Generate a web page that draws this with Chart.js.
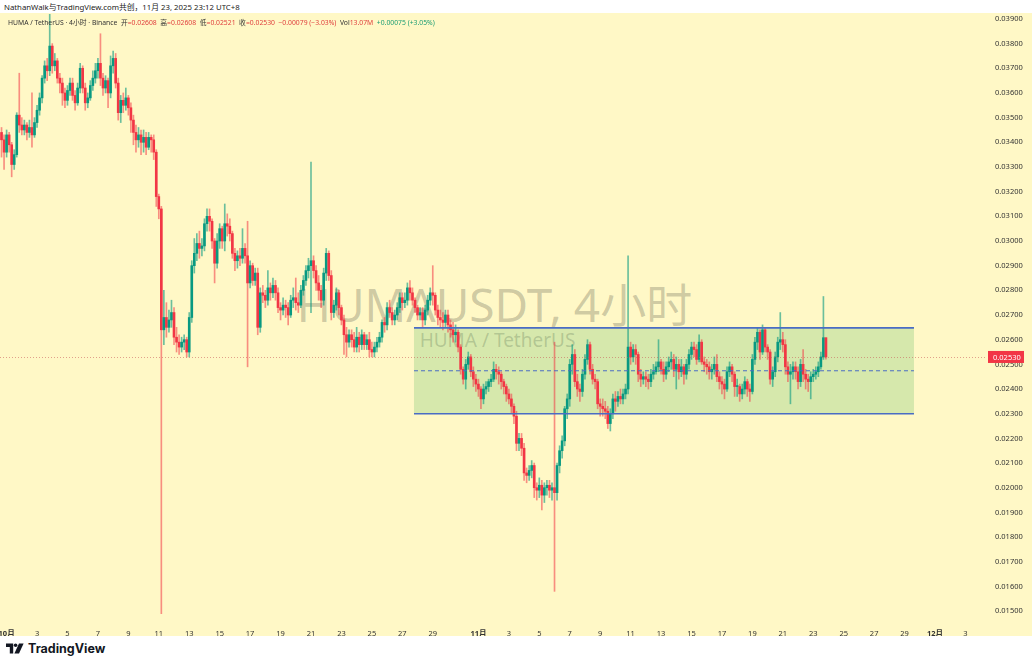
<!DOCTYPE html>
<html>
<head>
<meta charset="utf-8">
<script src="https://cdn.jsdelivr.net/npm/chart.js@4.4.1/dist/chart.umd.min.js"></script>
<style>
  html, body { margin: 0; padding: 0; background: #fff; }
  body { width: 1032px; height: 664px; position: relative; overflow: hidden;
         font-family: "Noto Sans", "Noto Sans CJK SC", sans-serif; }
  #credit { position: absolute; left: 4px; top: 1px; font-size: 7.8px; color: #222; white-space: nowrap; }
  #pane { position: absolute; left: 0; top: 13px; width: 1032px; height: 623px; background: #fff8c6; }
  #chart { position: absolute; left: 0; top: 0; }
  .wm { position: absolute; text-align: center; color: rgba(70, 70, 60, 0.27); white-space: nowrap;
        font-family: "Noto Sans", "Noto Sans CJK SC", sans-serif; }
  #wm1 { left: 2px; width: 985px; top: 265px; font-size: 46px; line-height: 52px; }
  #wm2 { left: 5px; width: 985px; top: 316px; font-size: 19px; line-height: 22px; }
  #legend { position: absolute; left: 8px; top: 4px; font-size: 6.8px; color: #333; white-space: nowrap; }
  #legend .r { color: #e0413e; }
  #legend .g { color: #1e9e74; }
  #logo { position: absolute; left: 6px; top: 641px; height: 14px; display: flex; align-items: center; }
  #logo span { font-family: Inter, "Noto Sans", sans-serif; font-weight: 700; font-size: 12.5px; color: #131722; margin-left: 4px; }
</style>
</head>
<body>
<div id="credit">NathanWalk与TradingView.com共创，11月 23, 2025 23:12 UTC+8</div>
<div id="pane">
  <div id="wm1" class="wm">HUMAUSDT, 4小时</div>
  <div id="wm2" class="wm">HUMA / TetherUS</div>
  <canvas id="chart" width="1032" height="623"></canvas>
  <div id="legend">HUMA / TetherUS · 4小时 · Binance&nbsp;&nbsp;开<span class="r">=0.02608</span>&nbsp;&nbsp;高<span class="r">=0.02608</span>&nbsp;&nbsp;低<span class="r">=0.02521</span>&nbsp;&nbsp;收<span class="r">=0.02530</span>&nbsp;&nbsp;<span class="r">−0.00079 (−3.03%)</span>&nbsp;&nbsp;Vol<span class="r">13.07M</span>&nbsp;&nbsp;<span class="g">+0.00075 (+3.05%)</span></div>
</div>
<div id="logo">
  <svg width="18" height="11" viewBox="0 0 18 11">
    <path d="M0 0.5h7.2v10h-3.4v-6.6H0z" fill="#131722"/>
    <circle cx="9.6" cy="2.3" r="1.8" fill="#131722"/>
    <path d="M13 0.5h4.6l-4.6 10H8.4z" fill="#131722"/>
  </svg>
  <span>TradingView</span>
</div>

<script>
// 4h candles, first one is Sep 30 16:00 (index -2), Oct 1 00:00 is index 0
const firstIndex = -2;
const firstOpen = 0.0344;

const closes = [
  0.0341, 0.0336,
  0.0343, 0.0339, 0.0331, 0.0335, 0.0351, 0.0347,
  0.0345, 0.0347, 0.0344, 0.0346, 0.0343, 0.0348,
  0.0353, 0.0358, 0.0366, 0.0371, 0.0369, 0.0379,
  0.0371, 0.0373, 0.0366, 0.0364, 0.0360, 0.0357,
  0.0361, 0.0364, 0.0359, 0.0356, 0.0362, 0.0370,
  0.0362, 0.0356, 0.0358, 0.0363, 0.0366, 0.0369,
  0.0372, 0.0366, 0.0362, 0.0365, 0.0360, 0.0371,
  0.0374, 0.0364, 0.0352, 0.0357, 0.0355, 0.0358,
  0.0354, 0.0349, 0.0344, 0.0341, 0.0343, 0.0340,
  0.0342, 0.0338, 0.0342, 0.0341, 0.0336, 0.0318,
  0.0313, 0.0264, 0.0269, 0.0265, 0.0268, 0.0271,
  0.0261, 0.0259, 0.0257, 0.0259, 0.0260, 0.0255,
  0.0269, 0.0290, 0.0295, 0.0299, 0.0297, 0.0298,
  0.0307, 0.0310, 0.0308, 0.0300, 0.0291, 0.0300,
  0.0305, 0.0300, 0.0307, 0.0306, 0.0303, 0.0295,
  0.0292, 0.0294, 0.0293, 0.0297, 0.0294, 0.0283,
  0.0290, 0.0284, 0.0287, 0.0265, 0.0279, 0.0278,
  0.0276, 0.0281, 0.0279, 0.0282, 0.0279, 0.0273,
  0.0272, 0.0274, 0.0273, 0.0270, 0.0276, 0.0277,
  0.0275, 0.0274, 0.0280, 0.0284, 0.0288, 0.0290,
  0.0292, 0.0288, 0.0283, 0.0280, 0.0276, 0.0287,
  0.0295, 0.0286, 0.0271, 0.0274, 0.0279, 0.0273,
  0.0268, 0.0262, 0.0259, 0.0262, 0.0260, 0.0257,
  0.0261, 0.0258, 0.0262, 0.0258, 0.0260, 0.0256,
  0.0255, 0.0257, 0.0259, 0.0261, 0.0267, 0.0266,
  0.0273, 0.0271, 0.0268, 0.0270, 0.0273, 0.0277,
  0.0275, 0.0276, 0.0281, 0.0279, 0.0276, 0.0273,
  0.0270, 0.0271, 0.0268, 0.0272, 0.0276, 0.0279,
  0.0278, 0.0272, 0.0269, 0.0268, 0.0267, 0.0270,
  0.0266, 0.0264, 0.0262, 0.0263, 0.0257, 0.0248,
  0.0244, 0.0250, 0.0253, 0.0247, 0.0244, 0.0242,
  0.0240, 0.0236, 0.0240, 0.0241, 0.0243, 0.0244,
  0.0248, 0.0247, 0.0246, 0.0243, 0.0241, 0.0238,
  0.0236, 0.0233, 0.0229, 0.0218, 0.0220, 0.0216,
  0.0206, 0.0205, 0.0207, 0.0209, 0.0200, 0.0199,
  0.0201, 0.0197, 0.0200, 0.0201, 0.0199, 0.0200,
  0.0198, 0.0209, 0.0215, 0.0219, 0.0232, 0.0236,
  0.0250, 0.0254, 0.0243, 0.0240, 0.0239, 0.0246,
  0.0252, 0.0258, 0.0248, 0.0244, 0.0243, 0.0234,
  0.0233, 0.0232, 0.0231, 0.0226, 0.0230, 0.0236,
  0.0235, 0.0237, 0.0236, 0.0238, 0.0240, 0.0257,
  0.0253, 0.0256, 0.0254, 0.0246, 0.0244, 0.0245,
  0.0244, 0.0243, 0.0246, 0.0247, 0.0249, 0.0251,
  0.0248, 0.0246, 0.0249, 0.0251, 0.0252, 0.0248,
  0.0250, 0.0247, 0.0249, 0.0246, 0.0250, 0.0254,
  0.0257, 0.0256, 0.0252, 0.0259, 0.0251, 0.0250,
  0.0249, 0.0247, 0.0248, 0.0250, 0.0245, 0.0243,
  0.0242, 0.0240, 0.0247, 0.0249, 0.0246, 0.0241,
  0.0241, 0.0238, 0.0240, 0.0243, 0.0240, 0.0239,
  0.0252, 0.0259, 0.0263, 0.0255, 0.0264, 0.0257,
  0.0255, 0.0244, 0.0247, 0.0253, 0.0259, 0.0260,
  0.0258, 0.0249, 0.0246, 0.0247, 0.0249, 0.0247,
  0.0243, 0.0250, 0.0246, 0.0244, 0.0243, 0.0245,
  0.0246, 0.0247, 0.0249, 0.0253, 0.02608, 0.0253
];

const highs = [
  0.0346, 0.0343,
  0.0345, 0.0344, 0.0340, 0.0337, 0.0352, 0.0368,
  0.0350, 0.0349, 0.0348, 0.0349, 0.0360, 0.0350,
  0.0355, 0.0360, 0.0367, 0.0373, 0.0374, 0.0392,
  0.0380, 0.0376, 0.0374, 0.0368, 0.0366, 0.0362,
  0.0363, 0.0366, 0.0366, 0.0361, 0.0364, 0.0372,
  0.0371, 0.0364, 0.0360, 0.0365, 0.0369, 0.0372,
  0.0374, 0.0384, 0.0368, 0.0367, 0.0366, 0.0375,
  0.0377, 0.0376, 0.0366, 0.0359, 0.0360, 0.0362,
  0.0359, 0.0356, 0.0351, 0.0347, 0.0346, 0.0345,
  0.0345, 0.0344, 0.0344, 0.0343, 0.0343, 0.0337,
  0.0319, 0.0314, 0.0280, 0.0275, 0.0272, 0.0276,
  0.0273, 0.0265, 0.0262, 0.0261, 0.0262, 0.0261,
  0.0271, 0.0292, 0.0301, 0.0303, 0.0304, 0.0301,
  0.0309, 0.0313, 0.0313, 0.0309, 0.0301, 0.0303,
  0.0307, 0.0306, 0.0315, 0.0311, 0.0309, 0.0304,
  0.0297, 0.0296, 0.0297, 0.0305, 0.0299, 0.0308,
  0.0292, 0.0291, 0.0289, 0.0289, 0.0281, 0.0282,
  0.0280, 0.0288, 0.0283, 0.0285, 0.0284, 0.0281,
  0.0275, 0.0277, 0.0276, 0.0275, 0.0278, 0.0281,
  0.0285, 0.0279, 0.0282, 0.0286, 0.0290, 0.0293,
  0.0332, 0.0294, 0.0290, 0.0286, 0.0282, 0.0289,
  0.0297, 0.0296, 0.0288, 0.0276, 0.0281, 0.0280,
  0.0274, 0.0270, 0.0265, 0.0264, 0.0264, 0.0263,
  0.0265, 0.0263, 0.0264, 0.0263, 0.0262, 0.0263,
  0.0259, 0.0259, 0.0261, 0.0263, 0.0268, 0.0269,
  0.0275, 0.0276, 0.0273, 0.0272, 0.0275, 0.0279,
  0.0279, 0.0279, 0.0283, 0.0284, 0.0281, 0.0277,
  0.0274, 0.0273, 0.0273, 0.0274, 0.0278, 0.0281,
  0.0290, 0.0279, 0.0274, 0.0272, 0.0271, 0.0272,
  0.0272, 0.0268, 0.0267, 0.0266, 0.0264, 0.0258,
  0.0249, 0.0252, 0.0255, 0.0254, 0.0249, 0.0246,
  0.0244, 0.0241, 0.0242, 0.0243, 0.0244, 0.0246,
  0.0251, 0.0250, 0.0249, 0.0247, 0.0244, 0.0242,
  0.0240, 0.0238, 0.0234, 0.0231, 0.0222, 0.0222,
  0.0218, 0.0208, 0.0209, 0.0211, 0.0210, 0.0202,
  0.0204, 0.0203, 0.0202, 0.0203, 0.0203, 0.0202,
  0.0259, 0.0210, 0.0217, 0.0221, 0.0233, 0.0238,
  0.0252, 0.0258, 0.0256, 0.0246, 0.0242, 0.0248,
  0.0254, 0.0260, 0.0259, 0.0250, 0.0246, 0.0244,
  0.0236, 0.0236, 0.0235, 0.0233, 0.0232, 0.0238,
  0.0239, 0.0239, 0.0240, 0.0240, 0.0242, 0.0294,
  0.0259, 0.0258, 0.0258, 0.0255, 0.0248, 0.0247,
  0.0247, 0.0246, 0.0248, 0.0250, 0.0251, 0.0260,
  0.0252, 0.0251, 0.0251, 0.0253, 0.0255, 0.0254,
  0.0253, 0.0252, 0.0252, 0.0250, 0.0252, 0.0256,
  0.0259, 0.0259, 0.0258, 0.0262, 0.0260, 0.0253,
  0.0252, 0.0251, 0.0250, 0.0253, 0.0254, 0.0247,
  0.0245, 0.0244, 0.0249, 0.0251, 0.0250, 0.0247,
  0.0244, 0.0242, 0.0242, 0.0245, 0.0244, 0.0242,
  0.0254, 0.0261, 0.0265, 0.0264, 0.0266, 0.0265,
  0.0258, 0.0256, 0.0249, 0.0255, 0.0261, 0.0271,
  0.0263, 0.0260, 0.0251, 0.0250, 0.0251, 0.0251,
  0.0249, 0.0252, 0.0256, 0.0248, 0.0246, 0.0247,
  0.0248, 0.0249, 0.0251, 0.0255, 0.02775, 0.02608
];

const lows = [
  0.0334, 0.0329,
  0.0334, 0.0336, 0.0326, 0.0329, 0.0334, 0.0344,
  0.0343, 0.0343, 0.0341, 0.0342, 0.0338, 0.0342,
  0.0346, 0.0351, 0.0356, 0.0364, 0.0365, 0.0367,
  0.0368, 0.0369, 0.0364, 0.0360, 0.0355, 0.0354,
  0.0355, 0.0359, 0.0357, 0.0353, 0.0355, 0.0360,
  0.0360, 0.0353, 0.0354, 0.0357, 0.0361, 0.0364,
  0.0366, 0.0363, 0.0359, 0.0360, 0.0354, 0.0358,
  0.0368, 0.0362, 0.0349, 0.0348, 0.0352, 0.0353,
  0.0351, 0.0344, 0.0339, 0.0336, 0.0338, 0.0335,
  0.0336, 0.0335, 0.0337, 0.0336, 0.0333, 0.0314,
  0.0309, 0.0149, 0.0258, 0.0261, 0.0263, 0.0265,
  0.0258, 0.0255, 0.0254, 0.0255, 0.0256, 0.0253,
  0.0253, 0.0267, 0.0287, 0.0292, 0.0293, 0.0294,
  0.0296, 0.0304, 0.0304, 0.0297, 0.0283, 0.0289,
  0.0297, 0.0297, 0.0296, 0.0302, 0.0300, 0.0293,
  0.0288, 0.0289, 0.0290, 0.0291, 0.0291, 0.0249,
  0.0281, 0.0282, 0.0282, 0.0262, 0.0263, 0.0275,
  0.0273, 0.0274, 0.0276, 0.0277, 0.0276, 0.0271,
  0.0268, 0.0270, 0.0269, 0.0266, 0.0269, 0.0273,
  0.0272, 0.0271, 0.0273, 0.0278, 0.0282, 0.0285,
  0.0271, 0.0285, 0.0280, 0.0276, 0.0273, 0.0274,
  0.0284, 0.0284, 0.0268, 0.0269, 0.0272, 0.0270,
  0.0266, 0.0254, 0.0253, 0.0257, 0.0257, 0.0255,
  0.0255, 0.0255, 0.0256, 0.0256, 0.0256, 0.0253,
  0.0253, 0.0253, 0.0255, 0.0257, 0.0259, 0.0263,
  0.0264, 0.0269, 0.0266, 0.0266, 0.0268, 0.0271,
  0.0272, 0.0273, 0.0274, 0.0276, 0.0274, 0.0271,
  0.0268, 0.0268, 0.0265, 0.0266, 0.0270, 0.0274,
  0.0274, 0.0270, 0.0266, 0.0265, 0.0264, 0.0265,
  0.0263, 0.0261, 0.0259, 0.0259, 0.0255, 0.0246,
  0.0242, 0.0240, 0.0248, 0.0245, 0.0241, 0.0239,
  0.0237, 0.0232, 0.0234, 0.0238, 0.0239, 0.0241,
  0.0243, 0.0244, 0.0242, 0.0240, 0.0238, 0.0235,
  0.0234, 0.0230, 0.0226, 0.0215, 0.0215, 0.0213,
  0.0203, 0.0202, 0.0203, 0.0204, 0.0196, 0.0195,
  0.0196, 0.0191, 0.0194, 0.0197, 0.0196, 0.0195,
  0.0158, 0.0195, 0.0206, 0.0212, 0.0217, 0.0228,
  0.0233, 0.0246, 0.0241, 0.0237, 0.0235, 0.0237,
  0.0244, 0.0250, 0.0246, 0.0242, 0.0240, 0.0232,
  0.0229, 0.0229, 0.0228, 0.0224, 0.0223, 0.0228,
  0.0231, 0.0233, 0.0234, 0.0234, 0.0236, 0.0238,
  0.0250, 0.0251, 0.0250, 0.0243, 0.0241, 0.0242,
  0.0241, 0.0240, 0.0241, 0.0244, 0.0246, 0.0247,
  0.0246, 0.0243, 0.0244, 0.0247, 0.0248, 0.0245,
  0.0240, 0.0244, 0.0245, 0.0242, 0.0244, 0.0248,
  0.0252, 0.0253, 0.0250, 0.0251, 0.0250, 0.0247,
  0.0246, 0.0244, 0.0244, 0.0246, 0.0243, 0.0240,
  0.0238, 0.0236, 0.0239, 0.0245, 0.0243, 0.0237,
  0.0237, 0.0235, 0.0236, 0.0238, 0.0237, 0.0235,
  0.0238, 0.0250, 0.0256, 0.0252, 0.0254, 0.0255,
  0.0252, 0.0242, 0.0241, 0.0245, 0.0251, 0.0256,
  0.0255, 0.0246, 0.0243, 0.0234, 0.0244, 0.0244,
  0.0240, 0.0241, 0.0243, 0.0240, 0.0239, 0.0236,
  0.0243, 0.0244, 0.0245, 0.0248, 0.0252, 0.02521
];

// date axis: tick position in candle index (6 per day) and its label
const xTickIdx = [0, 12, 24, 36, 48, 60, 72, 84, 96, 108, 120, 132, 144, 156, 168,
                  186, 198, 210, 222, 234, 246, 258, 270, 282, 294, 306, 318, 330, 342, 354, 366, 378];
const xTickText = ['10月', '3', '5', '7', '9', '11', '13', '15', '17', '19', '21', '23', '25', '27', '29',
                   '11月', '3', '5', '7', '9', '11', '13', '15', '17', '19', '21', '23', '25', '27', '29', '12月', '3'];
const yTicks = [0.015, 0.016, 0.017, 0.018, 0.019, 0.020, 0.021, 0.022, 0.023, 0.024, 0.025, 0.026,
                0.027, 0.028, 0.029, 0.030, 0.031, 0.032, 0.033, 0.034, 0.035, 0.036, 0.037, 0.038, 0.039];

const lastPrice = 0.0253;
// drawn range box
const boxFrom = 160.6, boxTo = 357.7;
const boxHigh = 0.02648, boxLow = 0.0230;

const upColor = '#089981';
const downColor = '#f23645';
const upWick = 'rgba(8, 153, 129, 0.6)';
const downWick = 'rgba(242, 54, 69, 0.55)';

const candles = closes.map((c, k) => {
  const o = k === 0 ? firstOpen : closes[k - 1];
  return { x: firstIndex + k, o: o, h: highs[k], l: lows[k], c: c };
});
const colors = candles.map(d => d.c >= d.o ? upColor : downColor);
const wickColors = candles.map(d => d.c >= d.o ? upWick : downWick);

const boxPlugin = {
  id: 'rangeBox',
  beforeDatasetsDraw(chart) {
    const { ctx, scales: { x, y } } = chart;
    const x0 = x.getPixelForValue(boxFrom), x1 = x.getPixelForValue(boxTo);
    const y0 = y.getPixelForValue(boxHigh), y1 = y.getPixelForValue(boxLow);
    ctx.save();
    ctx.fillStyle = 'rgba(105, 190, 105, 0.27)';
    ctx.fillRect(x0, y0, x1 - x0, y1 - y0);
    ctx.restore();
  },
  afterDatasetsDraw(chart) {
    const { ctx, chartArea, scales: { x, y } } = chart;
    const x0 = x.getPixelForValue(boxFrom), x1 = x.getPixelForValue(boxTo);
    const y0 = y.getPixelForValue(boxHigh), y1 = y.getPixelForValue(boxLow);
    ctx.save();
    ctx.strokeStyle = '#4a6cc4';
    ctx.lineWidth = 1.6;
    ctx.beginPath();
    ctx.moveTo(x0, y0); ctx.lineTo(x1, y0);
    ctx.moveTo(x0, y1); ctx.lineTo(x1, y1);
    ctx.stroke();
    ctx.lineWidth = 1;
    ctx.setLineDash([4, 3]);
    ctx.beginPath();
    const ym = (y0 + y1) / 2;
    ctx.moveTo(x0, ym); ctx.lineTo(x1, ym);
    ctx.stroke();
    // last price line
    const yp = Math.round(y.getPixelForValue(lastPrice)) + 0.5;
    ctx.strokeStyle = 'rgba(200, 90, 90, 0.55)';
    ctx.setLineDash([1, 2]);
    ctx.beginPath();
    ctx.moveTo(chartArea.left, yp); ctx.lineTo(chartArea.right, yp);
    ctx.stroke();
    ctx.restore();
  },
  afterDraw(chart) {
    const { ctx, chartArea, scales: { y } } = chart;
    const yp = y.getPixelForValue(lastPrice);
    ctx.save();
    ctx.fillStyle = downColor;
    ctx.fillRect(chartArea.right + 3, yp - 6, 36, 12);
    ctx.fillStyle = '#fff';
    ctx.font = '7.5px "Noto Sans", sans-serif';
    ctx.textBaseline = 'middle';
    ctx.textAlign = 'left';
    ctx.fillText(lastPrice.toFixed(5), chartArea.right + 8, yp + 0.5);
    ctx.restore();
  }
};

new Chart(document.getElementById('chart').getContext('2d'), {
  type: 'bar',
  data: {
    datasets: [
      {
        label: 'wick',
        data: candles.map(d => ({ x: d.x, y: [d.l, d.h] })),
        backgroundColor: wickColors,
        barThickness: 1,
        grouped: false,
        order: 2
      },
      {
        label: 'body',
        data: candles.map(d => ({ x: d.x, y: [d.o, d.c] })),
        backgroundColor: colors,
        barThickness: 2,
        minBarLength: 1,
        grouped: false,
        order: 1
      }
    ]
  },
  options: {
    responsive: false,
    animation: false,
    layout: { padding: { top: 1, left: 0, right: 0, bottom: 0 } },
    plugins: { legend: { display: false }, tooltip: { enabled: false }, title: { display: false } },
    scales: {
      x: {
        type: 'linear',
        offset: false,
        min: -2.6,
        max: 385.7,
        grid: { display: false, offset: false },
        border: { display: false },
        afterBuildTicks: scale => { scale.ticks = xTickIdx.map(v => ({ value: v })); },
        afterFit: scale => { scale.height = 18; scale.paddingLeft = 0; scale.paddingRight = 0; },
        ticks: {
          autoSkip: false,
          maxRotation: 0,
          padding: 3,
          color: '#333',
          font: ctx => ({
            family: '"Noto Sans", "Noto Sans CJK SC", sans-serif',
            size: 7.5,
            weight: (ctx.tick && xTickText[xTickIdx.indexOf(ctx.tick.value)] || '').includes('月') ? 'bold' : 'normal'
          }),
          callback: v => xTickText[xTickIdx.indexOf(v)]
        }
      },
      y: {
        position: 'right',
        min: 0.01472,
        max: 0.0392,
        grid: { display: false, drawTicks: false },
        border: { display: false },
        afterBuildTicks: scale => { scale.ticks = yTicks.map(v => ({ value: v })); },
        afterFit: scale => { scale.width = 47; scale.paddingTop = 0; scale.paddingBottom = 0; },
        ticks: {
          padding: 10,
          color: '#333',
          font: { family: '"Noto Sans", sans-serif', size: 7.5 },
          callback: v => v.toFixed(5)
        }
      }
    }
  },
  plugins: [boxPlugin]
});
</script>
</body>
</html>
